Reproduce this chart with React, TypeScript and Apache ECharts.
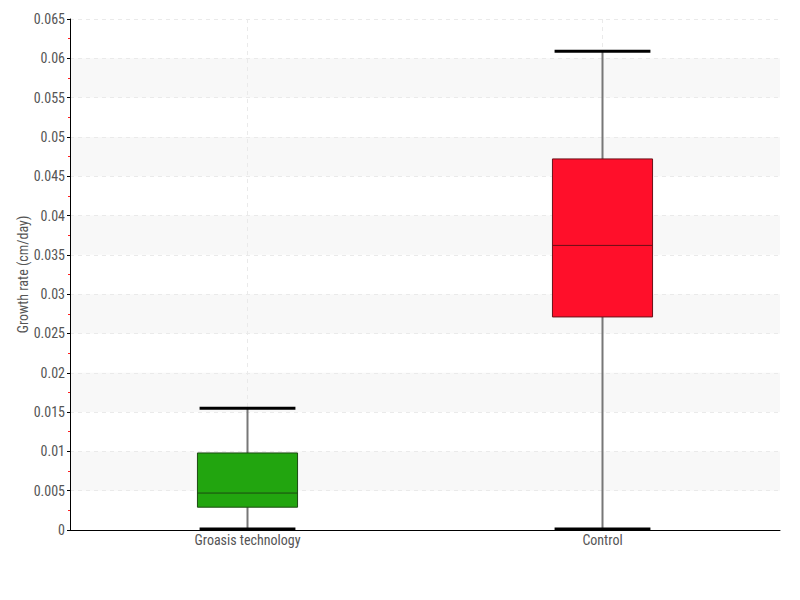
import React, { useEffect, useRef } from "react";
import * as echarts from "echarts";

const categories = ["Groasis technology", "Control"];
const mins = [0, 0];
const q1s = [0.0029, 0.0271];
const medians = [0.0047, 0.0362];
const q3s = [0.0098, 0.0472];
const maxs = [0.0155, 0.0609];
const boxColors = ["#22a50f", "#ff0f2a"];
const boxBorders = ["#1c4a12", "#6a1018"];

const FONT = "'Liberation Sans Narrow', 'Roboto Condensed', Roboto, sans-serif";

export default function App() {
  const ref = useRef<HTMLDivElement>(null);
  useEffect(() => {
    if (!ref.current) return;
    const chart = echarts.init(ref.current, undefined, { renderer: "svg" });
    const data = categories.map((_, i) => [i, mins[i], q1s[i], medians[i], q3s[i], maxs[i]]);
    chart.setOption({
      animation: false,
      grid: { left: 70, top: 19, right: 20, bottom: 70 },
      xAxis: {
        type: "category",
        data: categories,
        axisLine: { lineStyle: { color: "#000", width: 1 } },
        axisTick: { show: false },
        axisLabel: { color: "#555", fontSize: 14, fontFamily: FONT, margin: 3 },
        splitLine: { show: false },
      },
      yAxis: {
        type: "value",
        min: 0,
        max: 0.065,
        interval: 0.005,
        name: "Growth rate (cm/day)",
        nameLocation: "middle",
        nameGap: 40,
        nameMoveOverlap: false,
        nameTextStyle: { color: "#555", fontSize: 14, fontFamily: FONT },
        axisLine: { show: true, lineStyle: { color: "#000", width: 1 } },
        axisTick: { show: true, length: 3, lineStyle: { color: "#000" } },
        minorTick: { show: true, splitNumber: 2, length: 2, lineStyle: { color: "#ff2020" } },
        axisLabel: { color: "#555", fontSize: 14, fontFamily: FONT, margin: 5 },
        splitLine: { show: true, lineStyle: { color: "#eaeaea", type: [4, 4] } },
        splitArea: { show: true, areaStyle: { color: ["rgba(255,255,255,0)", "#f8f8f8"] } },
      },
      series: [
        {
          type: "custom",
          data,
          renderItem: (params: any, api: any) => {
            const idx = api.value(0);
            const cs = params.coordSys;
            const x = api.coord([idx, 0])[0];
            const band = api.size([1, 0])[0];
            const bw = band * 0.282;
            const cw = band * 0.27;
            const yMin = api.coord([idx, api.value(1)])[1];
            const yQ1 = api.coord([idx, api.value(2)])[1];
            const yMed = api.coord([idx, api.value(3)])[1];
            const yQ3 = api.coord([idx, api.value(4)])[1];
            const yMax = api.coord([idx, api.value(5)])[1];
            const i = params.dataIndex;
            return {
              type: "group",
              children: [
                {
                  type: "line",
                  shape: { x1: x, y1: cs.y, x2: x, y2: cs.y + cs.height },
                  style: { stroke: "#eaeaea", lineWidth: 1, lineDash: [4, 4] },
                },
                {
                  type: "line",
                  shape: { x1: x, y1: yMax, x2: x, y2: yMin },
                  style: { stroke: "#777", lineWidth: 2 },
                },
                {
                  type: "rect",
                  shape: { x: x - bw / 2, y: yQ3, width: bw, height: yQ1 - yQ3 },
                  style: { fill: boxColors[i], stroke: boxBorders[i], lineWidth: 1 },
                },
                {
                  type: "line",
                  shape: { x1: x - bw / 2, y1: yMed, x2: x + bw / 2, y2: yMed },
                  style: { stroke: boxBorders[i], lineWidth: 1 },
                },
                {
                  type: "line",
                  shape: { x1: x - cw / 2, y1: yMax, x2: x + cw / 2, y2: yMax },
                  style: { stroke: "#000", lineWidth: 3 },
                },
                {
                  type: "line",
                  shape: { x1: x - cw / 2, y1: yMin - 1, x2: x + cw / 2, y2: yMin - 1 },
                  style: { stroke: "#000", lineWidth: 3 },
                },
              ],
            };
          },
        },
      ],
    });
    return () => chart.dispose();
  }, []);
  return <div ref={ref} style={{ width: 800, height: 600, position: "absolute", left: 0, top: 0 }} />;
}
